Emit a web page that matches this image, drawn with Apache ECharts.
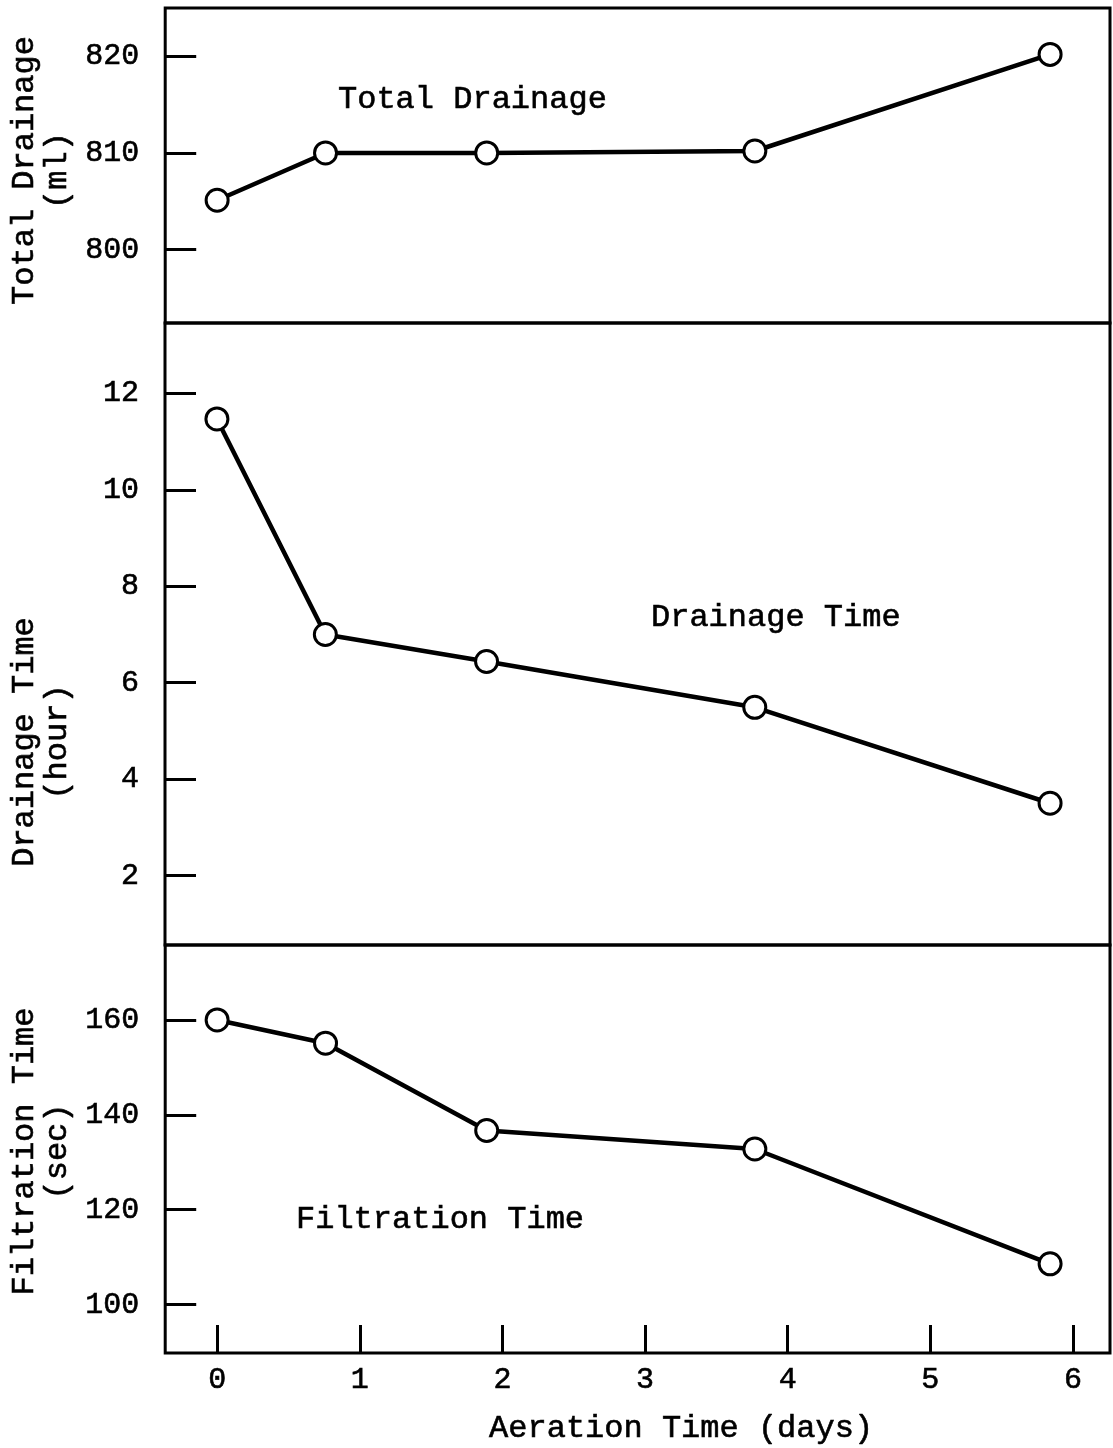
<!DOCTYPE html>
<html>
<head>
<meta charset="utf-8">
<title>Aeration Time</title>
<script src="https://cdn.jsdelivr.net/npm/echarts@6/dist/echarts.min.js"></script>
<style>
  html, body { margin: 0; padding: 0; background: #fff; }
  #chart { width: 1113px; height: 1448px; }
</style>
</head>
<body>
<div id="chart"></div>
<script>
// values
const aerationDays = [0, 0.76, 1.89, 3.77, 5.84]
const totalDrainage = [805.1, 810, 810, 810.2, 820.2]
const drainageTime = [11.47, 7.0, 6.44, 5.49, 3.5]
const filtrationTime = [160, 155.1, 136.7, 132.8, 108.6]

const dayTicks = [0, 1, 2, 3, 4, 5, 6]
const drainageTicks = [800, 810, 820]
const hourTicks = [2, 4, 6, 8, 10, 12]
const secTicks = [100, 120, 140, 160]

const FONT = '"Liberation Mono", "Courier New", monospace'
const INK = '#000'
// a thin outline makes the typewriter text a little heavier
const inkText = { textBorderColor: INK, textBorderWidth: 0.6 }

const chart = echarts.init(document.getElementById('chart'))

function pairs(ys) {
  return aerationDays.map((d, i) => [d, ys[i]])
}

function yAxisFor(gridIndex, min, max, ticks, name, shift) {
  return {
    type: 'value',
    gridIndex: gridIndex,
    min: min,
    max: max,
    name: name,
    nameLocation: 'middle',
    nameRotate: 90,
    nameGap: 91,
    nameTextStyle: Object.assign({
      fontFamily: FONT,
      fontSize: 32,
      color: INK,
      lineHeight: 33,
      align: 'center',
      padding: shift > 0 ? [0, shift, 0, 0] : [0, 0, 0, -shift]
    }, inkText),
    axisLine: { show: false, onZero: false },
    splitLine: { show: false },
    axisTick: {
      show: true,
      inside: true,
      length: 31,
      customValues: ticks,
      lineStyle: { color: INK, width: 3 }
    },
    axisLabel: Object.assign({
      margin: 26,
      customValues: ticks,
      fontFamily: FONT,
      fontSize: 30,
      color: INK
    }, inkText)
  }
}

function xAxisFor(gridIndex, visible) {
  return {
    type: 'value',
    gridIndex: gridIndex,
    min: -0.364,
    max: 6.26,
    show: visible,
    name: visible ? 'Aeration Time (days)' : '',
    nameLocation: 'middle',
    nameGap: 60,
    nameTextStyle: Object.assign({
      fontFamily: FONT,
      fontSize: 32,
      color: INK,
      padding: [0, 0, 0, 87]
    }, inkText),
    axisLine: { show: false, onZero: false },
    splitLine: { show: false },
    axisTick: {
      show: true,
      inside: true,
      length: 28,
      customValues: dayTicks,
      lineStyle: { color: INK, width: 3 }
    },
    axisLabel: Object.assign({
      margin: 12,
      customValues: dayTicks,
      fontFamily: FONT,
      fontSize: 30,
      color: INK
    }, inkText)
  }
}

function lineSeries(idx, ys) {
  return {
    type: 'line',
    xAxisIndex: idx,
    yAxisIndex: idx,
    data: pairs(ys),
    symbol: 'circle',
    symbolSize: 22,
    showSymbol: true,
    lineStyle: { color: INK, width: 4.5 },
    itemStyle: { color: '#fff', borderColor: INK, borderWidth: 3 },
    z: 3,
    animation: false
  }
}

const frame = { show: true, borderColor: INK, borderWidth: 3, backgroundColor: 'transparent' }

function panelLabel(text, x, y) {
  return {
    type: 'text',
    x: x,
    y: y,
    style: Object.assign({ text: text, font: '32px ' + FONT, fill: INK, stroke: INK, lineWidth: 0.6, align: 'left', verticalAlign: 'middle' })
  }
}

chart.setOption({
  backgroundColor: '#fff',
  animation: false,
  grid: [
    Object.assign({ left: 163, right: 3, top: 8, height: 315 }, frame),
    Object.assign({ left: 163, right: 3, top: 323, height: 622 }, frame),
    Object.assign({ left: 163, right: 3, top: 945, height: 408 }, frame)
  ],
  xAxis: [xAxisFor(0, false), xAxisFor(1, false), xAxisFor(2, true)],
  yAxis: [
    yAxisFor(0, 792.4, 825, drainageTicks, 'Total Drainage\n(ml)', 10),
    yAxisFor(1, 0.56, 13.46, hourTicks, 'Drainage Time\n(hour)', 216),
    yAxisFor(2, 89.8, 175.8, secTicks, 'Filtration Time\n(sec)', 5)
  ],
  series: [
    lineSeries(0, totalDrainage),
    lineSeries(1, drainageTime),
    lineSeries(2, filtrationTime)
  ],
  graphic: [
    panelLabel('Total Drainage', 338, 100),
    panelLabel('Drainage Time', 651, 618),
    panelLabel('Filtration Time', 296, 1220)
  ]
})
</script>
</body>
</html>
